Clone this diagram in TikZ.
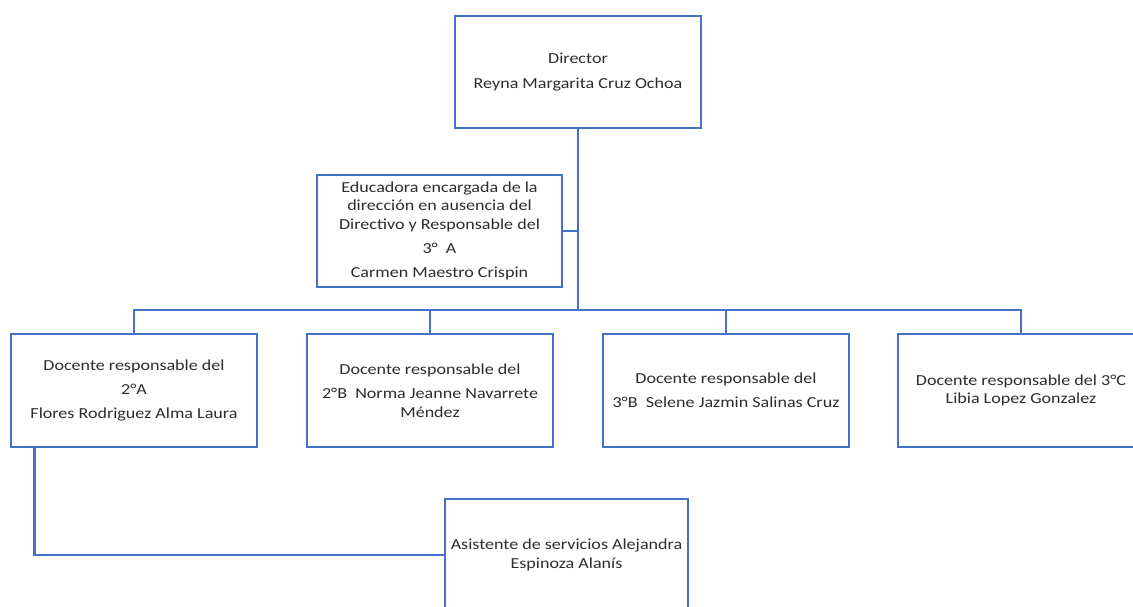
\documentclass[tikz,border=0pt]{standalone}
\usepackage{fontspec}
\setmainfont{Carlito}[FakeStretch=1.18]
\definecolor{boxblue}{RGB}{68,114,196}
\definecolor{txt}{RGB}{45,45,45}
\begin{document}
\begin{tikzpicture}[x=1pt,y=-1pt,
  orgbox/.style={draw=boxblue,line width=2.6pt,fill=white,rectangle,inner sep=0pt,
    minimum width=246pt,minimum height=112pt,align=center,text=txt,
    font=\fontsize{15.3pt}{18.6pt}\selectfont},
  link/.style={draw=boxblue,line width=2.6pt}]
\useasboundingbox (0,0) rectangle (1133,606);
\clip (0,0) rectangle (1133,606);
\coordinate (busC) at (578,310);
\node[orgbox] (dir) at (578,72) {Director\\[5.5pt]Reyna Margarita Cruz Ochoa};
\node[orgbox,minimum width=245pt] (edu) at (439.5,231) {Educadora encargada de la\\dirección en ausencia del\\Directivo y Responsable del\\[5.5pt]3°\ \ A\\[5.5pt]Carmen Maestro Crispin};
\node[orgbox,minimum height=113pt] (b1) at (134,390.5) {Docente responsable del\\[5.5pt]2°A\\[5.5pt]Flores Rodriguez Alma Laura};
\node[orgbox,minimum height=113pt] (b2) at (430,390.5) {Docente responsable del\\[5.5pt]2°B\ \ Norma Jeanne Navarrete\\Méndez};
\node[orgbox,minimum height=113pt] (b3) at (726,390.5) {Docente responsable del\\[5.5pt]3°B\ \ Selene Jazmin Salinas Cruz};
\node[orgbox,minimum height=113pt] (b4) at (1021,390.5) {Docente responsable del 3°C\\Libia Lopez Gonzalez};
\node[orgbox,minimum width=243pt] (asis) at (566.5,555) {Asistente de servicios Alejandra\\Espinoza Alanís};
\draw[link] (dir.south) -- (busC);
\draw[link] (edu.east) -- (edu.east -| busC);
\draw[link] (b1.north) |- (busC) -| (b4.north);
\draw[link] (b2.north) -- (b2.north |- busC);
\draw[link] (b3.north) -- (b3.north |- busC);
\draw[link] ([xshift=25pt]b1.south west) |- (asis.west);
\end{tikzpicture}
\end{document}
